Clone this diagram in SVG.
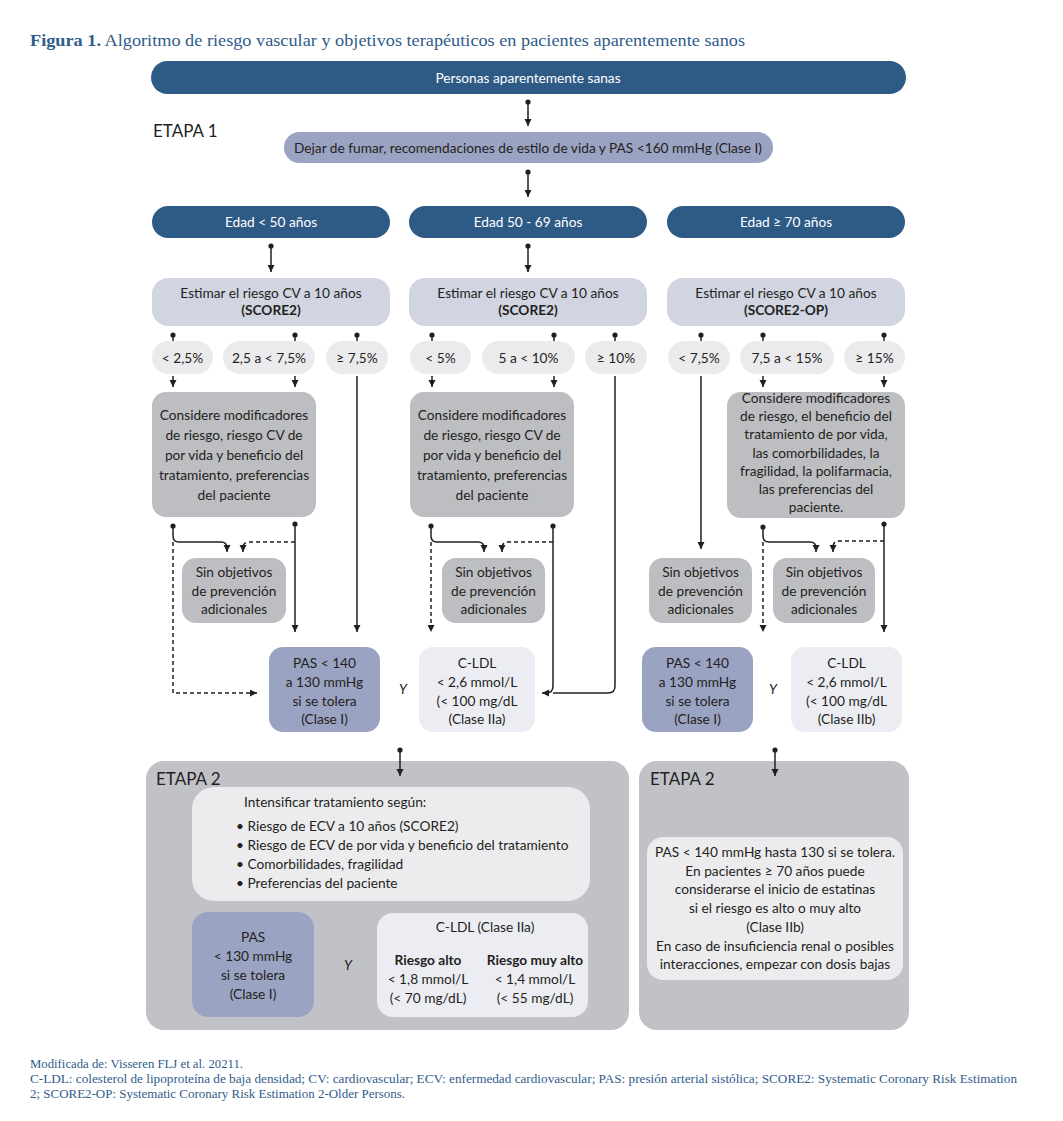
<svg xmlns="http://www.w3.org/2000/svg" width="1063" height="1121" viewBox="0 0 1063 1121">
<style>
.t{font-family:Lato,"Open Sans","Liberation Sans",sans-serif;font-size:13.7px;fill:#231f20;text-anchor:middle}
.w{fill:#ffffff}
.b{font-weight:bold}
.l{text-anchor:start}
.y{font-style:italic}
.stage{font-family:Lato,"Open Sans","Liberation Sans",sans-serif;font-size:17px;fill:#231f20}
.serif{font-family:"Liberation Serif","DejaVu Serif",serif;fill:#2f5c8a}
.dark{fill:#2e5a86}
.lav{fill:#9ba3c2}
.est{fill:#d1d4e1}
.pill{fill:#ebebed}
.con{fill:#bdbec2}
.st2{fill:#c1c2c7}
.inner{fill:#ececef}
.ldl{fill:#ecedf3}
.ln{fill:none;stroke:#231f20;stroke-width:1.5}
.da{stroke-dasharray:4 3}
</style>
<defs>
<marker id="ah" markerUnits="userSpaceOnUse" markerWidth="8" markerHeight="8" refX="7" refY="3.5" orient="auto"><path d="M0,0 L7,3.5 L0,7 z" fill="#231f20"/></marker>
<marker id="dot" markerUnits="userSpaceOnUse" markerWidth="6" markerHeight="6" refX="3" refY="3" orient="auto"><circle cx="3" cy="3" r="2.6" fill="#231f20"/></marker>
</defs>
<rect width="1063" height="1121" fill="#ffffff"/>

<text class="serif" x="30" y="46" font-size="17" textLength="715" lengthAdjust="spacingAndGlyphs"><tspan font-weight="bold">Figura 1.</tspan> Algoritmo de riesgo vascular y objetivos terapéuticos en pacientes aparentemente sanos</text>

<g id="n-personas"><rect class="dark" x="151" y="61" width="755" height="33" rx="16.5"/><text class="t w" x="528" y="83">Personas aparentemente sanas</text></g>
<g id="lbl-etapa1"><text class="stage" x="153" y="137">ETAPA 1</text></g>
<g id="n-dejar"><rect class="lav" x="284" y="132" width="489" height="31" rx="15.5"/><text class="t" x="528" y="153">Dejar de fumar, recomendaciones de estilo de vida y PAS &lt;160 mmHg (Clase I)</text></g>

<g id="n-edad1"><rect class="dark" x="152" y="206" width="238" height="32" rx="16"/><text class="t w" x="271" y="227">Edad &lt; 50 años</text></g>
<g id="n-edad2"><rect class="dark" x="409" y="206" width="238" height="32" rx="16"/><text class="t w" x="528" y="227">Edad 50 - 69 años</text></g>
<g id="n-edad3"><rect class="dark" x="667" y="206" width="238" height="32" rx="16"/><text class="t w" x="786" y="227">Edad ≥ 70 años</text></g>

<g id="n-est1"><rect class="est" x="152" y="278" width="238" height="48" rx="16"/><text class="t" x="271" y="298">Estimar el riesgo CV a 10 años</text><text class="t b" x="271" y="315">(SCORE2)</text></g>
<g id="n-est2"><rect class="est" x="409" y="278" width="238" height="48" rx="16"/><text class="t" x="528" y="298">Estimar el riesgo CV a 10 años</text><text class="t b" x="528" y="315">(SCORE2)</text></g>
<g id="n-est3"><rect class="est" x="667" y="278" width="238" height="48" rx="16"/><text class="t" x="786" y="298">Estimar el riesgo CV a 10 años</text><text class="t b" x="786" y="315">(SCORE2-OP)</text></g>

<g id="n-p1a"><rect class="pill" x="152" y="341" width="61" height="33" rx="16.5"/><text class="t" x="182.5" y="362.5">&lt; 2,5%</text></g>
<g id="n-p1b"><rect class="pill" x="223" y="341" width="92" height="33" rx="16.5"/><text class="t" x="269" y="362.5">2,5 a &lt; 7,5%</text></g>
<g id="n-p1c"><rect class="pill" x="326" y="341" width="62" height="33" rx="16.5"/><text class="t" x="357" y="362.5">≥ 7,5%</text></g>
<g id="n-p2a"><rect class="pill" x="410" y="341" width="61" height="33" rx="16.5"/><text class="t" x="440.5" y="362.5">&lt; 5%</text></g>
<g id="n-p2b"><rect class="pill" x="482" y="341" width="93" height="33" rx="16.5"/><text class="t" x="528.5" y="362.5">5 a &lt; 10%</text></g>
<g id="n-p2c"><rect class="pill" x="585" y="341" width="62" height="33" rx="16.5"/><text class="t" x="616" y="362.5">≥ 10%</text></g>
<g id="n-p3a"><rect class="pill" x="668" y="341" width="62" height="33" rx="16.5"/><text class="t" x="699" y="362.5">&lt; 7,5%</text></g>
<g id="n-p3b"><rect class="pill" x="740" y="341" width="94" height="33" rx="16.5"/><text class="t" x="787" y="362.5">7,5 a &lt; 15%</text></g>
<g id="n-p3c"><rect class="pill" x="844" y="341" width="61" height="33" rx="16.5"/><text class="t" x="874.5" y="362.5">≥ 15%</text></g>

<g id="n-con1"><rect class="con" x="152" y="392" width="164" height="125" rx="14"/>
<text class="t" x="234" y="420">Considere modificadores</text><text class="t" x="234" y="440">de riesgo, riesgo CV de</text><text class="t" x="234" y="460">por vida y beneficio del</text><text class="t" x="234" y="480">tratamiento, preferencias</text><text class="t" x="234" y="500">del paciente</text></g>
<g id="n-con2"><rect class="con" x="410" y="392" width="164" height="125" rx="14"/>
<text class="t" x="492" y="420">Considere modificadores</text><text class="t" x="492" y="440">de riesgo, riesgo CV de</text><text class="t" x="492" y="460">por vida y beneficio del</text><text class="t" x="492" y="480">tratamiento, preferencias</text><text class="t" x="492" y="500">del paciente</text></g>
<g id="n-con3"><rect class="con" x="727" y="392" width="178" height="126" rx="14"/>
<text class="t" x="816" y="403">Considere modificadores</text><text class="t" x="816" y="421">de riesgo, el beneficio del</text><text class="t" x="816" y="439">tratamiento de por vida,</text><text class="t" x="816" y="457.5">las comorbilidades, la</text><text class="t" x="816" y="476">fragilidad, la polifarmacia,</text><text class="t" x="816" y="494">las preferencias del</text><text class="t" x="816" y="512">paciente.</text></g>

<g id="n-sin1"><rect class="con" x="182" y="558" width="104" height="65" rx="14"/><text class="t" x="234" y="577">Sin objetivos</text><text class="t" x="234" y="596">de prevención</text><text class="t" x="234" y="614">adicionales</text></g>
<g id="n-sin2"><rect class="con" x="442" y="558" width="103" height="65" rx="14"/><text class="t" x="493.5" y="577">Sin objetivos</text><text class="t" x="493.5" y="596">de prevención</text><text class="t" x="493.5" y="614">adicionales</text></g>
<g id="n-sin3"><rect class="con" x="649" y="558" width="103" height="65" rx="14"/><text class="t" x="700.5" y="577">Sin objetivos</text><text class="t" x="700.5" y="596">de prevención</text><text class="t" x="700.5" y="614">adicionales</text></g>
<g id="n-sin4"><rect class="con" x="773" y="558" width="102" height="65" rx="14"/><text class="t" x="824" y="577">Sin objetivos</text><text class="t" x="824" y="596">de prevención</text><text class="t" x="824" y="614">adicionales</text></g>

<g id="n-pas1"><rect class="lav" x="269" y="647" width="111" height="85" rx="14"/><text class="t" x="324.5" y="668">PAS &lt; 140</text><text class="t" x="324.5" y="687">a 130 mmHg</text><text class="t" x="324.5" y="706">si se tolera</text><text class="t" x="324.5" y="724">(Clase I)</text></g>
<g id="lbl-y1"><text class="t y" x="403" y="694">Y</text></g>
<g id="n-ldl2"><rect class="ldl" x="419" y="647" width="116" height="85" rx="14"/><text class="t" x="477" y="668">C-LDL</text><text class="t" x="477" y="687">&lt; 2,6 mmol/L</text><text class="t" x="477" y="706">(&lt; 100 mg/dL</text><text class="t" x="477" y="724">(Clase IIa)</text></g>
<g id="n-pas3"><rect class="lav" x="642" y="647" width="111" height="85" rx="14"/><text class="t" x="697.5" y="668">PAS &lt; 140</text><text class="t" x="697.5" y="687">a 130 mmHg</text><text class="t" x="697.5" y="706">si se tolera</text><text class="t" x="697.5" y="724">(Clase I)</text></g>
<g id="lbl-y2"><text class="t y" x="773" y="694">Y</text></g>
<g id="n-ldl3"><rect class="ldl" x="791" y="647" width="111" height="85" rx="14"/><text class="t" x="846.5" y="668">C-LDL</text><text class="t" x="846.5" y="687">&lt; 2,6 mmol/L</text><text class="t" x="846.5" y="706">(&lt; 100 mg/dL</text><text class="t" x="846.5" y="724">(Clase IIb)</text></g>

<g id="n-etapa2a"><rect class="st2" x="146" y="761" width="483" height="269" rx="18"/><text class="stage" x="156" y="785" font-size="18">ETAPA 2</text>
<rect class="inner" x="192" y="787" width="398" height="114" rx="22"/>
<text class="t l" x="244" y="807">Intensificar tratamiento según:</text>
<text class="t l" x="236" y="831">• Riesgo de ECV a 10 años (SCORE2)</text>
<text class="t l" x="236" y="850">• Riesgo de ECV de por vida y beneficio del tratamiento</text>
<text class="t l" x="236" y="869">• Comorbilidades, fragilidad</text>
<text class="t l" x="236" y="888">• Preferencias del paciente</text>
</g>
<g id="n-pas-e2"><rect class="lav" x="192" y="912" width="122" height="105" rx="16"/><text class="t" x="253" y="942">PAS</text><text class="t" x="253" y="961">&lt; 130 mmHg</text><text class="t" x="253" y="980">si se tolera</text><text class="t" x="253" y="999">(Clase I)</text></g>
<g id="lbl-y3"><text class="t y" x="348" y="970">Y</text></g>
<g id="n-ldl-e2"><rect class="ldl" x="377" y="913" width="211" height="104" rx="16"/><text class="t" x="485" y="932">C-LDL (Clase IIa)</text>
<text class="t b" x="428" y="965">Riesgo alto</text><text class="t" x="428" y="984">&lt; 1,8 mmol/L</text><text class="t" x="428" y="1003">(&lt; 70 mg/dL)</text>
<text class="t b" x="535" y="965">Riesgo muy alto</text><text class="t" x="535" y="984">&lt; 1,4 mmol/L</text><text class="t" x="535" y="1003">(&lt; 55 mg/dL)</text></g>

<g id="n-etapa2b"><rect class="st2" x="639" y="761" width="270" height="269" rx="18"/><text class="stage" x="650" y="785" font-size="18">ETAPA 2</text>
<rect class="inner" x="647" y="837" width="256" height="143" rx="16"/>
<text class="t" x="775" y="857">PAS &lt; 140 mmHg hasta 130 si se tolera.</text>
<text class="t" x="775" y="876">En pacientes ≥ 70 años puede</text>
<text class="t" x="775" y="894">considerarse el inicio de estatinas</text>
<text class="t" x="775" y="913">si el riesgo es alto o muy alto</text>
<text class="t" x="775" y="932">(Clase IIb)</text>
<text class="t" x="775" y="951">En caso de insuficiencia renal o posibles</text>
<text class="t" x="775" y="969">interacciones, empezar con dosis bajas</text>
</g>

<g id="connectors">
<path class="ln" marker-start="url(#dot)" marker-end="url(#ah)" d="M528,102 V126"/>
<path class="ln" marker-start="url(#dot)" marker-end="url(#ah)" d="M528,172 V197"/>
<path class="ln" marker-start="url(#dot)" marker-end="url(#ah)" d="M271,246 V272"/>
<path class="ln" marker-start="url(#dot)" marker-end="url(#ah)" d="M528,246 V272"/>
<path class="ln" marker-start="url(#dot)" d="M173,335 V341"/>
<path class="ln" marker-start="url(#dot)" d="M295,335 V341"/>
<path class="ln" marker-start="url(#dot)" d="M357,335 V341"/>
<path class="ln" marker-start="url(#dot)" d="M432,335 V341"/>
<path class="ln" marker-start="url(#dot)" d="M554,335 V341"/>
<path class="ln" marker-start="url(#dot)" d="M615,335 V341"/>
<path class="ln" marker-start="url(#dot)" d="M701,335 V341"/>
<path class="ln" marker-start="url(#dot)" d="M763,335 V341"/>
<path class="ln" marker-start="url(#dot)" d="M884,335 V341"/>
<path class="ln" marker-end="url(#ah)" d="M173,376 V387"/>
<path class="ln" marker-end="url(#ah)" d="M295,376 V387"/>
<path class="ln" marker-end="url(#ah)" d="M432,376 V387"/>
<path class="ln" marker-end="url(#ah)" d="M554,376 V387"/>
<path class="ln" marker-end="url(#ah)" d="M763,376 V387"/>
<path class="ln" marker-end="url(#ah)" d="M884,376 V387"/>
<path class="ln" marker-end="url(#ah)" d="M357,376 V632"/>
<path class="ln" d="M615,376 V686 Q615,693 608,693 H553"/>
<path class="ln" marker-end="url(#ah)" d="M701,376 V549"/>

<path class="ln" marker-start="url(#dot)" marker-end="url(#ah)" d="M173,526 V536 Q173,542 179,542 H221 Q227,542 227,548 V552"/>
<path class="ln da" marker-end="url(#ah)" d="M173,542 V693 H257"/>
<path class="ln" marker-start="url(#dot)" marker-end="url(#ah)" d="M295,524 V632"/>
<path class="ln da" marker-end="url(#ah)" d="M295,542 H249 Q243,542 243,548 V552"/>

<path class="ln" marker-start="url(#dot)" marker-end="url(#ah)" d="M431,526 V536 Q431,542 437,542 H478 Q484,542 484,548 V552"/>
<path class="ln da" marker-end="url(#ah)" d="M431,542 V632"/>
<path class="ln" marker-start="url(#dot)" marker-end="url(#ah)" d="M553,526 V686 Q553,693 546,693 H542"/>
<path class="ln da" marker-end="url(#ah)" d="M553,542 H508 Q502,542 502,548 V552"/>

<path class="ln" marker-start="url(#dot)" marker-end="url(#ah)" d="M763,527 V536 Q763,542 769,542 H810 Q816,542 816,548 V552"/>
<path class="ln da" marker-end="url(#ah)" d="M763,542 V632"/>
<path class="ln" marker-start="url(#dot)" marker-end="url(#ah)" d="M884,524 V632"/>
<path class="ln da" marker-end="url(#ah)" d="M884,541 H839 Q833,541 833,547 V552"/>

<path class="ln" marker-start="url(#dot)" marker-end="url(#ah)" d="M400,750 V776"/>
<path class="ln" marker-start="url(#dot)" marker-end="url(#ah)" d="M775,750 V776"/>
</g>

<g id="footer">
<text class="serif" x="30" y="1068" font-size="12.5" textLength="213" lengthAdjust="spacingAndGlyphs">Modificada de: Visseren FLJ et al. 20211.</text>
<text class="serif" x="30" y="1083" font-size="12.5" textLength="987" lengthAdjust="spacingAndGlyphs">C-LDL: colesterol de lipoproteína de baja densidad; CV: cardiovascular; ECV: enfermedad cardiovascular; PAS: presión arterial sistólica; SCORE2: Systematic Coronary Risk Estimation</text>
<text class="serif" x="30" y="1098" font-size="12.5" textLength="375" lengthAdjust="spacingAndGlyphs">2; SCORE2-OP: Systematic Coronary Risk Estimation 2-Older Persons.</text>
</g>
</svg>
